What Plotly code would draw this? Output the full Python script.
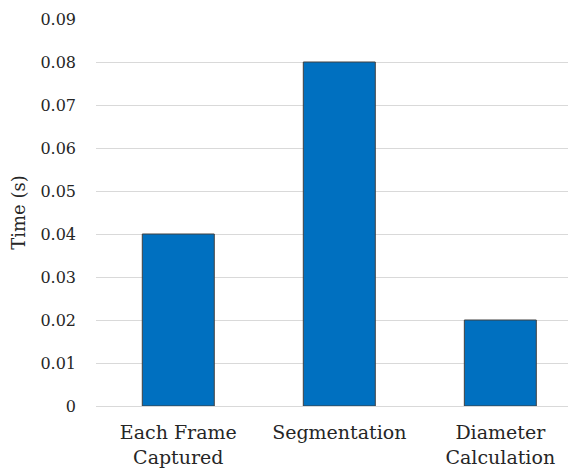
import plotly.graph_objects as go

categories = ["Each Frame<br>Captured", "Segmentation", "Diameter<br>Calculation"]
times = [0.04, 0.08, 0.02]
y_ticks = [0, 0.01, 0.02, 0.03, 0.04, 0.05, 0.06, 0.07, 0.08, 0.09]
y_tick_labels = ["0", "0.01", "0.02", "0.03", "0.04", "0.05", "0.06", "0.07", "0.08", "0.09"]

FONT = "DejaVu Serif"
TXT = "#262626"

fig = go.Figure(
    go.Bar(
        x=categories,
        y=times,
        width=0.447,
        marker=dict(color="#0070C0", line=dict(color="#404040", width=1)),
    )
)

fig.update_layout(
    width=568,
    height=466,
    margin=dict(l=88, r=0, t=11, b=68),
    paper_bgcolor="white",
    plot_bgcolor="white",
    showlegend=False,
    font=dict(family=FONT, color=TXT),
)

fig.update_xaxes(
    range=[-0.511, 2.47],
    showgrid=False,
    showline=False,
    zeroline=False,
    tickfont=dict(family=FONT, size=19, color=TXT),
    ticks="",
    ticklabelstandoff=13,
)

fig.update_yaxes(
    range=[0, 0.09],
    tickvals=y_ticks,
    ticktext=y_tick_labels,
    showgrid=True,
    gridcolor="#d9d9d9",
    gridwidth=1,
    zeroline=True,
    zerolinecolor="#d9d9d9",
    zerolinewidth=1,
    showline=False,
    ticks="",
    tickfont=dict(family=FONT, size=16, color=TXT),
    ticklabelstandoff=19,
    title=dict(text="Time (s)", font=dict(family=FONT, size=18, color=TXT), standoff=11),
    automargin=False,
)

fig.write_html("out.html")
